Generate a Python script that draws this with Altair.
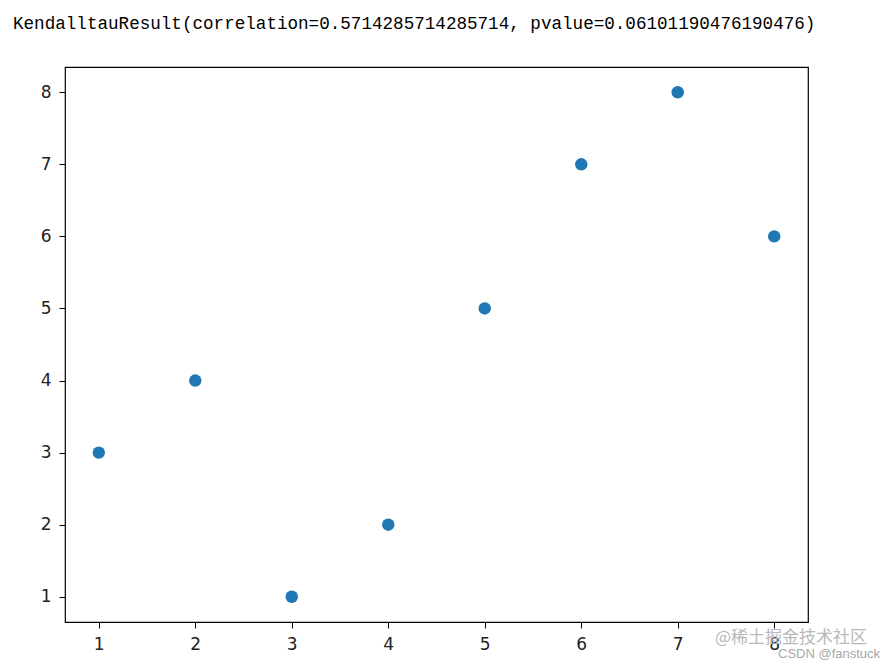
import altair as alt
import pandas as pd

xs = [1, 2, 3, 4, 5, 6, 7, 8]
ys = [3, 4, 1, 2, 5, 7, 8, 6]
tick_values = [1, 2, 3, 4, 5, 6, 7, 8]
title_text = "KendalltauResult(correlation=0.5714285714285714, pvalue=0.06101190476190476)"
watermark1 = ["@稀土掘金技术社区"]
watermark2 = ["CSDN @fanstuck"]

df = pd.DataFrame({"x": xs, "y": ys})

axis_common = dict(
    values=tick_values,
    grid=False,
    domain=False,
    tickColor="#000000",
    tickSize=6,
    tickWidth=1,
    labelFont="DejaVu Sans",
    labelFontSize=17,
    labelColor="#222222",
    labelPadding=8,
    title=None,
)

points = alt.Chart(df).mark_circle(size=155, opacity=1, color="#1f77b4").encode(
    x=alt.X("x:Q", scale=alt.Scale(domain=[0.65, 8.35], nice=False, zero=False),
            axis=alt.Axis(**axis_common, format="d")),
    y=alt.Y("y:Q", scale=alt.Scale(domain=[0.65, 8.35], nice=False, zero=False),
            axis=alt.Axis(**axis_common, format="d")),
)

wm1 = alt.Chart(pd.DataFrame({"t": watermark1})).mark_text(
    font="Noto Sans CJK SC", fontSize=17, color="#b8b8b8", align="left", baseline="middle"
).encode(text="t:N", x=alt.value(650), y=alt.value(571))

wm2 = alt.Chart(pd.DataFrame({"t": watermark2})).mark_text(
    font="Liberation Sans", fontSize=13, color="#a8a8a8", align="left", baseline="middle"
).encode(text="t:N", x=alt.value(713), y=alt.value(587))

chart = alt.layer(points, wm1, wm2).properties(
    width=743,
    height=555,
    autosize="none",
    padding={"left": 57, "top": 59, "right": 80, "bottom": 45},
    title=alt.TitleParams(
        text=title_text,
        anchor="start",
        frame="group",
        font="Liberation Mono",
        fontSize=17.6,
        fontWeight="normal",
        color="#000000",
        dx=-52,
        offset=20,
        baseline="alphabetic",
    ),
).configure_view(stroke="#000000", strokeWidth=1.2)

chart.save("out.html", embed_options={"renderer": "svg", "actions": False})
